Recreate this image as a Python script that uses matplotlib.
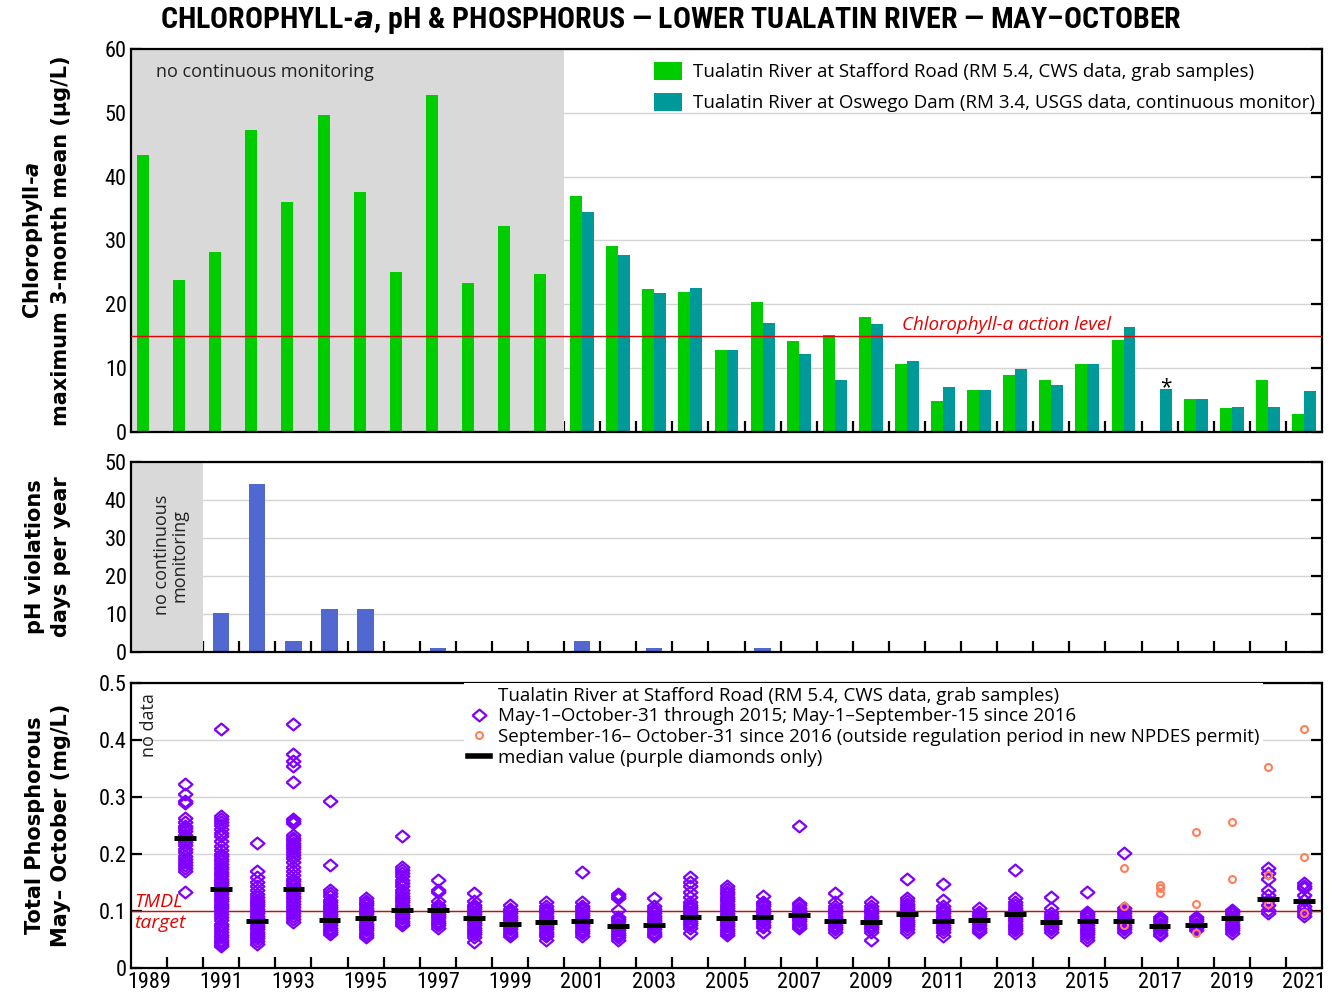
import matplotlib
matplotlib.use("Agg")
import matplotlib.pyplot as plt
import numpy as np
from matplotlib.lines import Line2D
from matplotlib.patches import Patch

# --- chlorophyll-a, maximum 3-month mean (ug/L) ---
years = np.arange(1989, 2022)
chl_stafford = [43.4, 23.8, 28.2, 47.3, 36.1, 49.7, 37.6, 25.1, 52.8, 23.3, 32.3, 24.7,
                36.9, 29.1, 22.4, 22.0, 12.8, 20.3, 14.3, 15.2, 18.0, 10.6, 4.8, 6.6,
                9.0, 8.1, 10.7, 14.4, np.nan, 5.1, 3.75, 8.2, 2.8]
chl_oswego = [np.nan] * 12 + [34.5, 27.7, 21.8, 22.6, 12.9, 17.1, 12.2, 8.1, 16.9, 11.1,
                              7.0, 6.6, 9.9, 7.4, 10.6, 16.5, 6.7, 5.1, 3.9, 3.9, 6.5]
chl_action_level = 15

# --- pH violations, days per year (continuous monitor from 1991) ---
ph_years = np.arange(1991, 2022)
ph_days = [10.2, 44.3, 3, 11.2, 11.2, 0, 1, 0, 0, 0, 3, 0, 1, 0, 0, 1,
           0, 0, 0, 0, 0, 0, 0, 0, 0, 0, 0, 0, 0, 0, 0]

# --- total phosphorus (mg/L), grab samples at Stafford Road ---
tp_years = np.arange(1990, 2022)
tp_values = [
    [0.323, 0.306, 0.293, 0.289, 0.263, 0.257, 0.250, 0.245, 0.240, 0.234, 0.229, 0.225,
     0.221, 0.215, 0.209, 0.203, 0.197, 0.192, 0.186, 0.180, 0.175, 0.171, 0.133],
    [0.419, 0.266, 0.261, 0.257, 0.251, 0.243, 0.236, 0.232, 0.222, 0.214, 0.207, 0.200,
     0.196, 0.191, 0.187, 0.182, 0.178, 0.173, 0.169, 0.165, 0.161, 0.157, 0.153, 0.149,
     0.145, 0.141, 0.137, 0.133, 0.129, 0.125, 0.121, 0.117, 0.113, 0.109, 0.105, 0.100,
     0.095, 0.089, 0.084, 0.078, 0.073, 0.068, 0.063, 0.058, 0.054, 0.050, 0.046, 0.042, 0.038],
    [0.219, 0.171, 0.160, 0.151, 0.143, 0.136, 0.130, 0.125, 0.120, 0.116, 0.112, 0.108,
     0.104, 0.100, 0.096, 0.092, 0.088, 0.084, 0.080, 0.076, 0.072, 0.068, 0.064, 0.060,
     0.056, 0.052, 0.048, 0.042],
    [0.428, 0.375, 0.364, 0.354, 0.326, 0.262, 0.258, 0.255, 0.233, 0.228, 0.224, 0.220,
     0.216, 0.212, 0.208, 0.204, 0.199, 0.193, 0.186, 0.178, 0.170, 0.163, 0.157, 0.152,
     0.147, 0.143, 0.139, 0.135, 0.131, 0.127, 0.122, 0.117, 0.112, 0.107, 0.102, 0.097,
     0.092, 0.086, 0.080],
    [0.293, 0.181, 0.136, 0.131, 0.127, 0.119, 0.115, 0.111, 0.107, 0.103, 0.099, 0.095,
     0.091, 0.087, 0.083, 0.079, 0.075, 0.071, 0.067, 0.063, 0.059],
    [0.122, 0.118, 0.114, 0.110, 0.106, 0.102, 0.098, 0.094, 0.090, 0.086, 0.082, 0.078,
     0.074, 0.070, 0.066, 0.062, 0.058, 0.054],
    [0.232, 0.177, 0.172, 0.166, 0.161, 0.155, 0.149, 0.143, 0.136, 0.131, 0.127, 0.123,
     0.119, 0.115, 0.111, 0.107, 0.103, 0.099, 0.095, 0.091, 0.087, 0.083, 0.079, 0.075],
    [0.154, 0.136, 0.133, 0.117, 0.111, 0.107, 0.103, 0.099, 0.095, 0.091, 0.087, 0.083,
     0.079, 0.075, 0.071],
    [0.131, 0.117, 0.111, 0.107, 0.103, 0.099, 0.095, 0.091, 0.087, 0.083, 0.079, 0.075,
     0.071, 0.067, 0.063, 0.059, 0.055, 0.046],
    [0.111, 0.104, 0.100, 0.096, 0.092, 0.088, 0.084, 0.080, 0.076, 0.072, 0.068, 0.064,
     0.060, 0.056],
    [0.115, 0.108, 0.104, 0.100, 0.096, 0.092, 0.088, 0.084, 0.080, 0.076, 0.072, 0.068,
     0.064, 0.060, 0.056, 0.050],
    [0.169, 0.115, 0.109, 0.105, 0.101, 0.097, 0.093, 0.089, 0.085, 0.081, 0.077, 0.073,
     0.069, 0.065, 0.061, 0.057],
    [0.130, 0.126, 0.122, 0.102, 0.090, 0.086, 0.082, 0.078, 0.074, 0.070, 0.066, 0.062,
     0.058, 0.054, 0.050],
    [0.123, 0.108, 0.104, 0.100, 0.096, 0.092, 0.088, 0.084, 0.080, 0.076, 0.072, 0.068,
     0.064, 0.060, 0.056],
    [0.160, 0.151, 0.143, 0.134, 0.125, 0.116, 0.111, 0.107, 0.103, 0.099, 0.095, 0.091,
     0.087, 0.083, 0.079, 0.075, 0.070, 0.062],
    [0.143, 0.138, 0.134, 0.129, 0.125, 0.121, 0.117, 0.113, 0.109, 0.105, 0.101, 0.097,
     0.093, 0.089, 0.085, 0.081, 0.077, 0.073, 0.069, 0.065, 0.061, 0.058],
    [0.126, 0.116, 0.112, 0.108, 0.104, 0.100, 0.096, 0.092, 0.088, 0.084, 0.080, 0.076,
     0.072, 0.064],
    [0.250, 0.114, 0.110, 0.106, 0.102, 0.098, 0.094, 0.090, 0.086, 0.082, 0.078, 0.074, 0.070],
    [0.131, 0.116, 0.108, 0.104, 0.100, 0.096, 0.092, 0.088, 0.084, 0.080, 0.076, 0.072,
     0.068, 0.064],
    [0.116, 0.108, 0.104, 0.100, 0.096, 0.092, 0.088, 0.084, 0.080, 0.076, 0.072, 0.068,
     0.063, 0.049],
    [0.157, 0.122, 0.117, 0.113, 0.109, 0.105, 0.101, 0.097, 0.093, 0.089, 0.085, 0.081,
     0.077, 0.073, 0.069, 0.064],
    [0.147, 0.119, 0.108, 0.104, 0.100, 0.096, 0.092, 0.088, 0.084, 0.080, 0.076, 0.072,
     0.068, 0.064, 0.057],
    [0.105, 0.099, 0.095, 0.091, 0.087, 0.083, 0.079, 0.075, 0.071, 0.067, 0.063],
    [0.172, 0.122, 0.116, 0.110, 0.106, 0.102, 0.098, 0.094, 0.090, 0.086, 0.082, 0.078,
     0.074, 0.070, 0.066, 0.062],
    [0.125, 0.105, 0.096, 0.092, 0.088, 0.084, 0.080, 0.076, 0.072, 0.068, 0.064],
    [0.134, 0.099, 0.095, 0.091, 0.087, 0.083, 0.079, 0.075, 0.071, 0.067, 0.063, 0.059,
     0.055, 0.050],
    [0.201, 0.105, 0.100, 0.096, 0.092, 0.088, 0.084, 0.080, 0.076, 0.072, 0.068, 0.064],
    [0.090, 0.086, 0.082, 0.078, 0.074, 0.070, 0.066, 0.062, 0.058],
    [0.090, 0.086, 0.082, 0.078, 0.074, 0.070, 0.066],
    [0.102, 0.098, 0.094, 0.090, 0.086, 0.082, 0.078, 0.074, 0.070, 0.066, 0.062],
    [0.175, 0.166, 0.157, 0.137, 0.128, 0.120, 0.111, 0.102, 0.096],
    [0.150, 0.144, 0.140, 0.128, 0.120, 0.108, 0.103, 0.097, 0.092],
]
tp_medians = [0.228, 0.139, 0.083, 0.139, 0.084, 0.087, 0.102, 0.101, 0.087, 0.078,
              0.080, 0.082, 0.074, 0.076, 0.090, 0.087, 0.090, 0.093, 0.083, 0.081,
              0.095, 0.082, 0.084, 0.094, 0.081, 0.082, 0.083, 0.073, 0.075, 0.087,
              0.121, 0.117]

# Sep-16 to Oct-31 samples since 2016 (outside new permit season)
late_years = np.arange(2016, 2022)
late_values = [
    [0.175, 0.108, 0.076],
    [0.145, 0.140, 0.132],
    [0.238, 0.113, 0.062],
    [0.257, 0.156],
    [0.353, 0.163, 0.112],
    [0.419, 0.195, 0.097],
]
tp_target = 0.1

GREEN = "#00cc00"
TEAL = "#009999"
BLUE = "#5068d0"
PURPLE = "#8000ff"
CORAL = "#ff7f5a"
RED = "#e60000"
SHADE = "#d9d9d9"
GRID = "#d4d4d4"

NARROW = ["Roboto Condensed", "Liberation Sans"]
BODY = ["Open Sans", "DejaVu Sans"]

plt.rcParams["mathtext.fontset"] = "custom"
plt.rcParams["mathtext.it"] = "DejaVu Sans:italic:bold"
plt.rcParams["mathtext.bf"] = "DejaVu Sans:bold"

W, H = 1332, 994
fig = plt.figure(figsize=(W / 100, H / 100), dpi=100)


def px_axes(left, top, right, bottom):
    return fig.add_axes([left / W, 1 - bottom / H, (right - left) / W, (bottom - top) / H])


ax1 = px_axes(131, 49, 1322, 432)
ax2 = px_axes(131, 462, 1322, 652)
ax3 = px_axes(131, 683, 1322, 968)

edges = np.arange(1988.5, 2022.0, 1.0)
diamond = [(-1, 0), (0, 0.85), (1, 0), (0, -0.85), (-1, 0)]

for ax in (ax1, ax2, ax3):
    ax.set_xlim(1988.5, 2021.5)
    ax.set_xticks(edges[1:-1])
    ax.set_xticklabels([])
    ax.tick_params(axis="x", direction="in", length=8, width=1.6, top=False)
    ax.tick_params(axis="y", direction="in", length=8, width=1.6, right=True, pad=3)
    for spine in ax.spines.values():
        spine.set_linewidth(1.6)
    ax.set_axisbelow(True)
    ax.yaxis.grid(True, color=GRID, linewidth=1.0)

# ---------- chlorophyll-a panel ----------
bw = 0.33
ax1.axvspan(1988.5, 2000.5, color=SHADE, zorder=0.6, lw=0)
ax1.bar(years - bw / 2, chl_stafford, width=bw, color=GREEN, zorder=2)
ax1.bar(years + bw / 2, chl_oswego, width=bw, color=TEAL, zorder=2)
ax1.axhline(chl_action_level, color=RED, lw=1.0, zorder=3)
ax1.set_ylim(0, 60)
ax1.set_yticks(range(0, 61, 10))
ax1.set_yticklabels([str(v) for v in range(0, 61, 10)], family=NARROW, fontsize=16)
ax1.text(2017 + bw / 2, 6.0, "*", ha="center", va="baseline", fontsize=15, family=BODY)
ax1.text(1989.2, 56.4, "no continuous monitoring", fontsize=13, family=BODY,
         va="center", ha="left", color="#222222")
ax1.text(2009.85, 16.8, "Chlorophyll-a action level", color=RED,
         fontsize=13.5, style="italic", family=BODY, ha="left", va="center")
ax1.legend(
    [Patch(facecolor=GREEN), Patch(facecolor=TEAL)],
    ["Tualatin River at Stafford Road (RM 5.4, CWS data, grab samples)",
     "Tualatin River at Oswego Dam (RM 3.4, USGS data, continuous monitor)"],
    loc="upper right", bbox_to_anchor=(1.0, 0.984), frameon=False,
    prop={"family": BODY, "size": 13.5}, handlelength=1.5, handleheight=1.15,
    handletextpad=0.6, labelspacing=0.6, borderpad=0.3, borderaxespad=0.05,
)
ax1.set_ylabel("Chlorophyll-$\\mathit{a}$\nmaximum 3-month mean (µg/L)",
               fontsize=15, fontweight="bold", family="DejaVu Sans", linespacing=1.4)

# ---------- pH panel ----------
ax2.axvspan(1988.5, 1990.5, color=SHADE, zorder=0.6, lw=0)
ax2.bar(ph_years, ph_days, width=0.45, color=BLUE, zorder=2)
ax2.set_ylim(0, 50)
ax2.set_yticks(range(0, 51, 10))
ax2.set_yticklabels([str(v) for v in range(0, 51, 10)], family=NARROW, fontsize=16)
ax2.text(1989.6, 25.5, "no continuous\nmonitoring", rotation=90, ha="center", va="center",
         fontsize=13, family=BODY, color="#222222", linespacing=1.0)
ax2.set_ylabel("pH violations\ndays per year", fontsize=15, fontweight="bold",
               family="DejaVu Sans", linespacing=1.4)

# ---------- total phosphorus panel ----------
ax3.axhline(tp_target, color=RED, lw=1.0, zorder=1.5)
for yr, vals in zip(tp_years, tp_values):
    ax3.plot([yr] * len(vals), vals, linestyle="none", marker=diamond, markersize=10,
             markerfacecolor="none", markeredgecolor=PURPLE, markeredgewidth=1.6, zorder=3)
for yr, vals in zip(late_years, late_values):
    ax3.plot([yr] * len(vals), vals, linestyle="none", marker="o", markersize=5,
             markerfacecolor="none", markeredgecolor=CORAL, markeredgewidth=1.5, zorder=4)
ax3.hlines(tp_medians, tp_years - 0.3, tp_years + 0.3, color="black", lw=3.6, zorder=5)
ax3.set_ylim(0, 0.5)
ax3.set_yticks([0, 0.1, 0.2, 0.3, 0.4, 0.5])
ax3.set_yticklabels(["0", "0.1", "0.2", "0.3", "0.4", "0.5"], family=NARROW, fontsize=16)
ax3.set_xticks(np.arange(1989, 2022, 2), minor=True)
ax3.set_xticklabels([str(y) for y in range(1989, 2022, 2)], minor=True, family=NARROW,
                    fontsize=16)
ax3.tick_params(axis="x", which="minor", length=0, pad=3)
ax3.text(1989.0, 0.426, "no data", rotation=90, ha="center", va="center", fontsize=13,
         family=BODY, color="#222222")
ax3.text(1988.6, 0.097, "TMDL\ntarget", color=RED, fontsize=14, style="italic", family=BODY,
         ha="left", va="center", linespacing=1.2)
ax3.legend(
    [Line2D([], [], linestyle="none"),
     Line2D([], [], linestyle="none", marker=diamond, markersize=10, markerfacecolor="none",
            markeredgecolor=PURPLE, markeredgewidth=1.6),
     Line2D([], [], linestyle="none", marker="o", markersize=5, markerfacecolor="none",
            markeredgecolor=CORAL, markeredgewidth=1.5),
     Line2D([], [], color="black", lw=4)],
    ["Tualatin River at Stafford Road (RM 5.4, CWS data, grab samples)",
     "May-1\u2013October-31 through 2015; May-1\u2013September-15 since 2016",
     "September-16\u2013 October-31 since 2016 (outside regulation period in new NPDES permit)",
     "median value (purple diamonds only)"],
    loc="upper left", bbox_to_anchor=(0.28, 1.0), frameon=True, framealpha=1.0,
    edgecolor="none", facecolor="white", fancybox=False,
    prop={"family": BODY, "size": 13.5}, handlelength=1.15, handletextpad=0.45,
    labelspacing=0.14, borderpad=0.2, borderaxespad=0.0,
)
ax3.set_ylabel("Total Phosphorous\nMay\u2013 October (mg/L)", fontsize=15, fontweight="bold",
               family="DejaVu Sans", linespacing=1.4)

for ax in (ax1, ax2, ax3):
    ax.yaxis.set_label_coords(-0.05, 0.5)

fig.text(0.504, 0.979, "CHLOROPHYLL-$\\mathit{a}$, pH & PHOSPHORUS \u2014 LOWER TUALATIN RIVER "
         "\u2014 MAY\u2013OCTOBER", ha="center", va="center", fontsize=21.5,
         fontweight="bold", family=NARROW)

fig.savefig("out.png", dpi=100)
